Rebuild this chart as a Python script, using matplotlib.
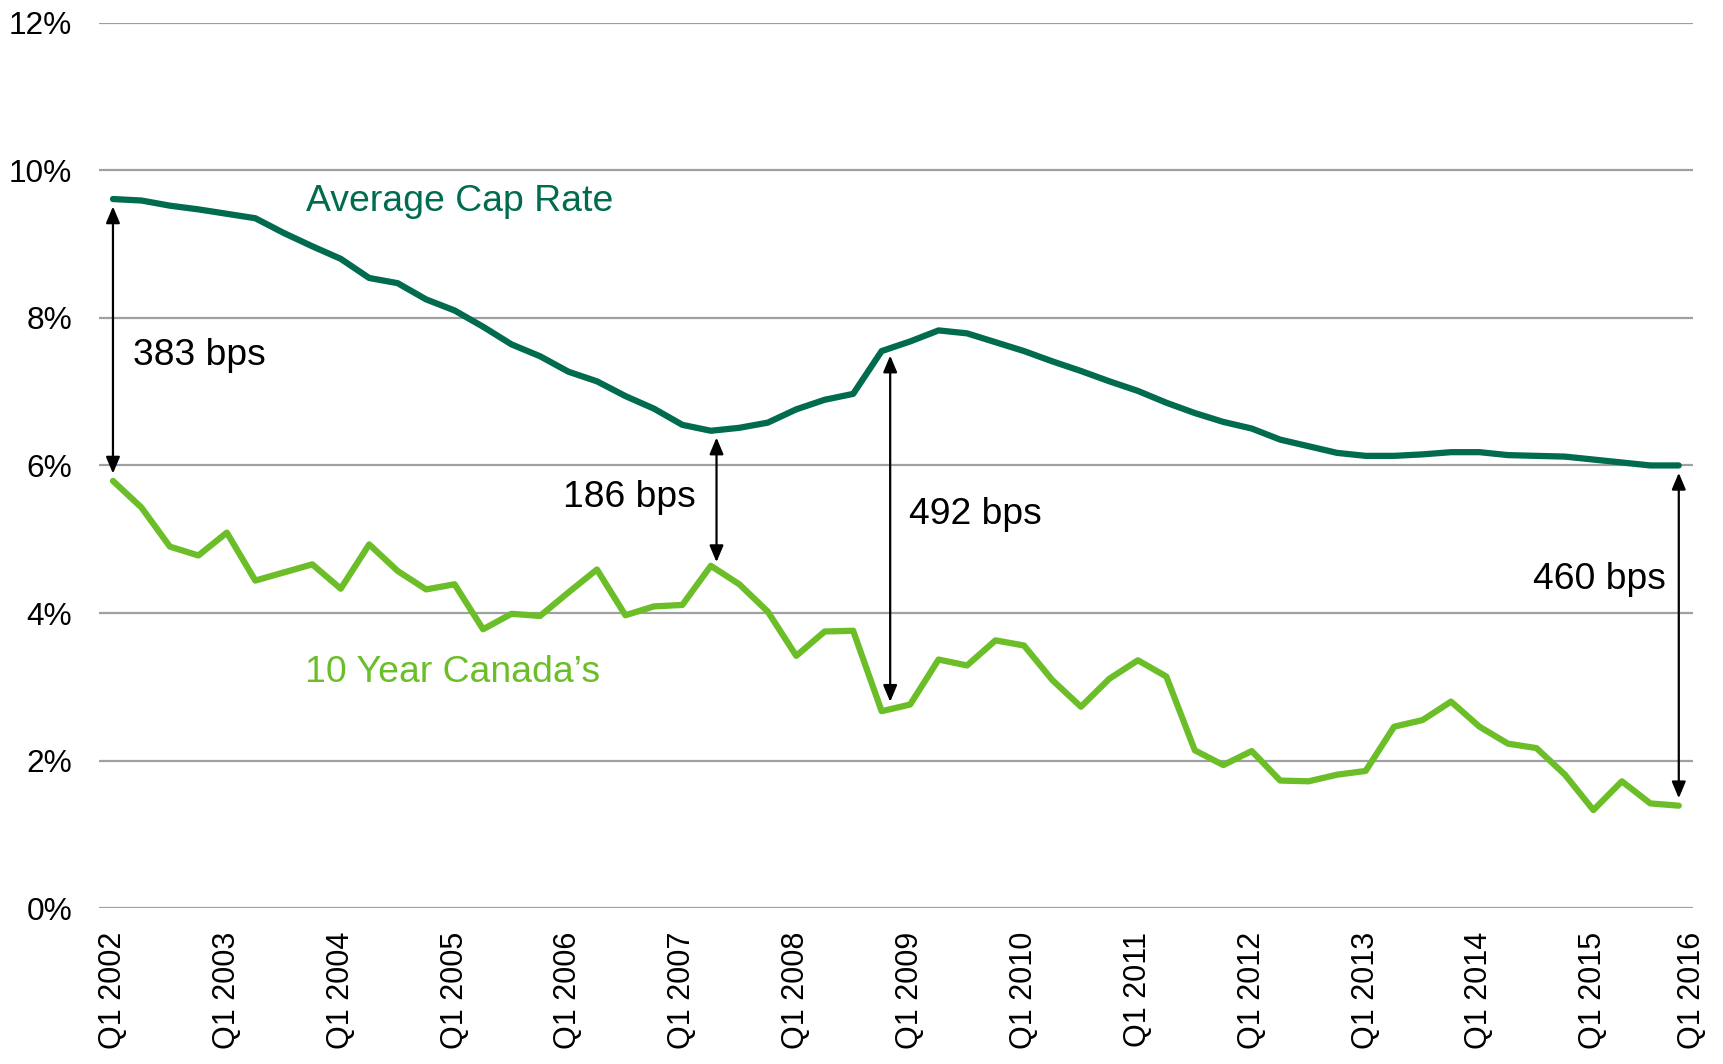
import numpy as np
import matplotlib
matplotlib.use("Agg")
import matplotlib.pyplot as plt

plt.rcParams['font.family'] = ['Liberation Sans', 'DejaVu Sans']

# quarterly values, Q1 2002 .. end of 2015
cap_rate = [9.61, 9.59, 9.52, 9.47, 9.41, 9.35, 9.15, 8.97, 8.80, 8.54,
            8.47, 8.25, 8.10, 7.88, 7.64, 7.48, 7.27, 7.14, 6.94, 6.77,
            6.55, 6.47, 6.51, 6.58, 6.76, 6.89, 6.97, 7.55, 7.68, 7.83,
            7.79, 7.67, 7.55, 7.41, 7.28, 7.14, 7.01, 6.85, 6.71, 6.59,
            6.50, 6.35, 6.26, 6.17, 6.13, 6.13, 6.15, 6.18, 6.18, 6.14,
            6.13, 6.12, 6.08, 6.04, 6.00, 6.00]
bond_10y = [5.79, 5.43, 4.90, 4.78, 5.09, 4.44, 4.55, 4.66, 4.33, 4.93,
            4.57, 4.32, 4.39, 3.78, 3.99, 3.96, 4.28, 4.59, 3.97, 4.09,
            4.11, 4.64, 4.39, 4.02, 3.42, 3.75, 3.76, 2.67, 2.76, 3.37,
            3.29, 3.63, 3.56, 3.09, 2.73, 3.11, 3.36, 3.14, 2.14, 1.94,
            2.13, 1.73, 1.72, 1.81, 1.86, 2.46, 2.55, 2.80, 2.46, 2.23,
            2.17, 1.81, 1.33, 1.72, 1.42, 1.39]

tick_labels = ['Q1 2002', 'Q1 2003', 'Q1 2004', 'Q1 2005', 'Q1 2006',
               'Q1 2007', 'Q1 2008', 'Q1 2009', 'Q1 2010', 'Q1 2011',
               'Q1 2012', 'Q1 2013', 'Q1 2014', 'Q1 2015', 'Q1 2016']
y_ticks = [0, 2, 4, 6, 8, 10, 12]

# spread call-outs: position on the quarter axis and label
spread_pos = [0, 21.2, 27.3, 55]
spread_text = ['383 bps', '186 bps', '492 bps', '460 bps']

DARK = '#006B4F'
LIGHT = '#6BBE27'
GRID = '#A0A0A0'

x = np.arange(len(cap_rate))

fig = plt.figure(figsize=(17.23, 10.64), dpi=100)
ax = fig.add_axes([0.0573, 0.1464, 0.9253, 0.8323])

ax.plot(x, cap_rate, color=DARK, lw=4.5, solid_capstyle='round', solid_joinstyle='round', zorder=3)
ax.plot(x, bond_10y, color=LIGHT, lw=4.5, solid_capstyle='round', solid_joinstyle='round', zorder=3)

ax.set_xlim(-0.5, len(x) - 0.5)
ax.set_ylim(0, 12)
ax.set_yticks(y_ticks)
ax.set_yticklabels(['{}%'.format(v) for v in y_ticks], fontsize=22.8)
tick_pos = list(range(0, 4 * (len(tick_labels) - 1), 4)) + [len(x) - 0.55]
ax.set_xticks(tick_pos)
ax.set_xticklabels(tick_labels, rotation=90, fontsize=22, va='top', ha='center')
ax.tick_params(axis='y', length=0, pad=19)
ax.tick_params(axis='x', length=0, pad=17)
ax.grid(axis='y', color=GRID, lw=1.6)
ax.set_axisbelow(True)
for s in ax.spines.values():
    s.set_visible(False)

# double-headed arrows between the two series
text_xy = [(0.69, 7.36), (15.8, 5.44), (27.95, 5.20), (49.87, 4.32)]
for pos, label, (tx, ty) in zip(spread_pos, spread_text, text_xy):
    top = np.interp(pos, x, cap_rate) - 0.1
    bottom = np.interp(pos, x, bond_10y) + 0.1
    ax.annotate('', xy=(pos, bottom), xytext=(pos, top),
                arrowprops=dict(arrowstyle='<|-|>,head_length=1.0,head_width=0.42',
                                color='black', lw=1.6, shrinkA=0, shrinkB=0),
                zorder=4)
    ax.text(tx, ty, label, fontsize=26.8, color='black', ha='left', va='baseline')

ax.text(6.79, 9.45, 'Average Cap Rate', fontsize=26.9, color=DARK, ha='left', va='baseline')
ax.text(6.75, 3.06, '10 Year Canada\u2019s', fontsize=26.9, color=LIGHT, ha='left', va='baseline')

fig.savefig('out.png', dpi=100)
